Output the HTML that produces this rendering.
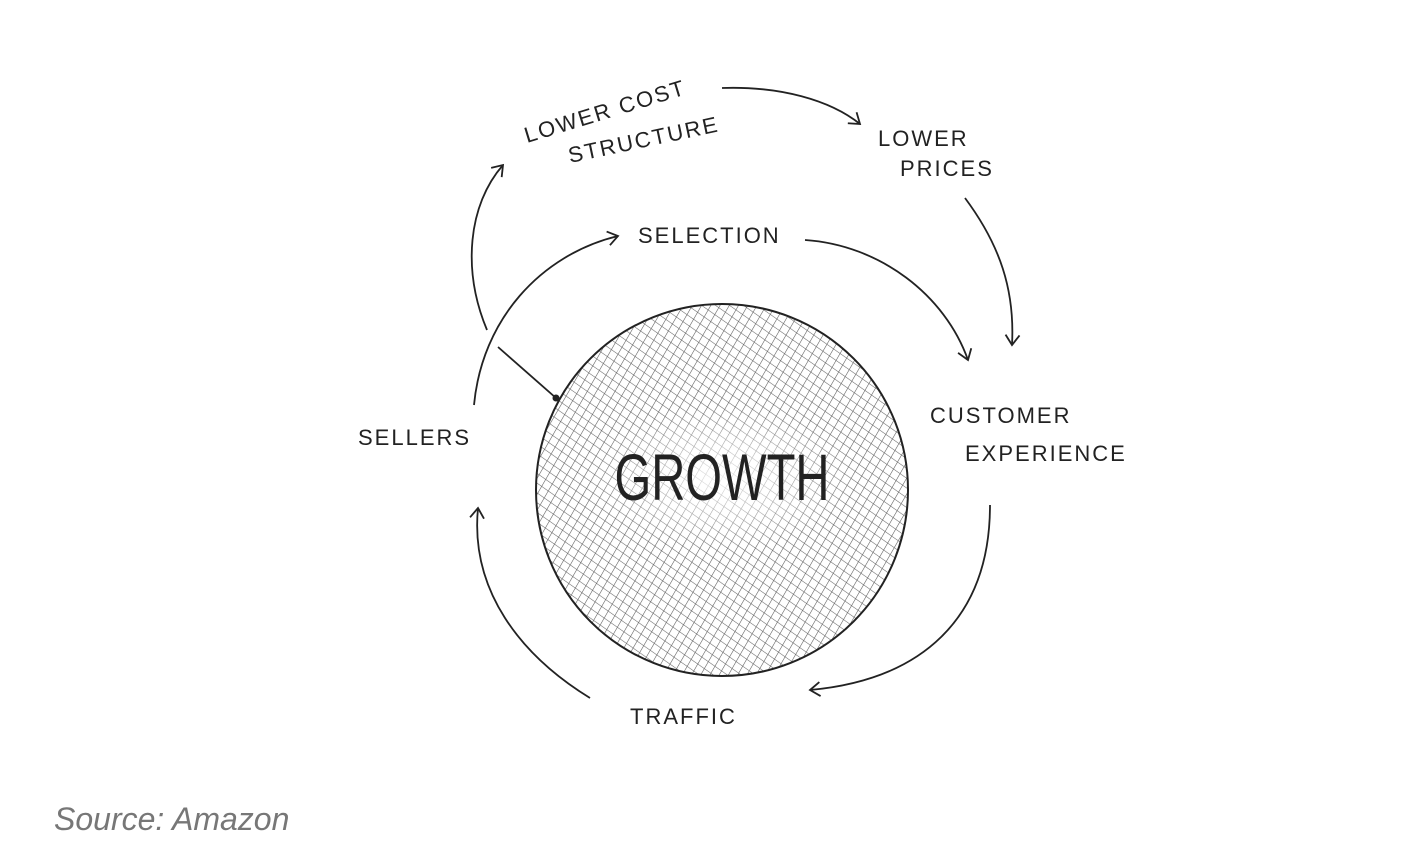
<!DOCTYPE html>
<html><head><meta charset="utf-8"><style>
html,body{margin:0;padding:0;background:#fff;}
body{width:1406px;height:859px;overflow:hidden;position:relative;}
svg{position:absolute;left:0;top:0;}
</style></head><body>
<svg width="1406" height="859" viewBox="0 0 1406 859" xmlns="http://www.w3.org/2000/svg">
<defs>
<pattern id="h1" width="8" height="8" patternUnits="userSpaceOnUse" patternTransform="rotate(30)">
<line x1="0" y1="0" x2="0" y2="8" stroke="#555" stroke-width="1.1"/>
</pattern>
<pattern id="h2" width="8" height="8" patternUnits="userSpaceOnUse" patternTransform="rotate(-55)">
<line x1="0" y1="0" x2="0" y2="8" stroke="#666" stroke-width="1.1"/>
</pattern>
<radialGradient id="rg" cx="0.5" cy="0.5" r="0.5">
<stop offset="0" stop-color="#fff" stop-opacity="0.85"/>
<stop offset="0.55" stop-color="#fff" stop-opacity="0.4"/>
<stop offset="1" stop-color="#fff" stop-opacity="0"/>
</radialGradient>
<marker id="a" markerWidth="16" markerHeight="16" refX="12" refY="8" orient="auto" markerUnits="userSpaceOnUse">
<path d="M2,1 L12,8 L2,15" fill="none" stroke="#222" stroke-width="1.8"/>
</marker>
</defs>
<circle cx="722" cy="490" r="186" fill="#fff"/>
<circle cx="722" cy="490" r="186" fill="url(#h1)"/>
<circle cx="722" cy="490" r="186" fill="url(#h2)"/>
<ellipse cx="722" cy="478" rx="135" ry="72" fill="url(#rg)"/>
<circle cx="722" cy="490" r="186" fill="none" stroke="#222" stroke-width="2"/>
<text x="722" y="500" text-anchor="middle" font-family="Liberation Sans, sans-serif" font-size="66" fill="#222" textLength="215" lengthAdjust="spacingAndGlyphs">GROWTH</text>
<g fill="none" stroke="#222" stroke-width="1.8">
<path d="M487,330 C462,270 468,205 503,165" marker-end="url(#a)"/>
<path d="M722,88 C780,86 830,100 860,124" marker-end="url(#a)"/>
<path d="M965,198 C1000,245 1015,290 1012,345" marker-end="url(#a)"/>
<path d="M805,240 C880,245 945,295 968,360" marker-end="url(#a)"/>
<path d="M474,405 C482,320 540,255 618,236" marker-end="url(#a)"/>
<path d="M498,347 L556,398"/>
<path d="M990,505 C990,620 920,680 810,690" marker-end="url(#a)"/>
<path d="M590,698 C520,655 470,590 478,508" marker-end="url(#a)"/>
</g>
<circle cx="556" cy="398" r="3.5" fill="#222"/>
<g font-family="Liberation Sans, sans-serif" fill="#222" font-size="22" letter-spacing="2">
<text transform="translate(527,143) rotate(-17)">LOWER COST</text>
<text transform="translate(570,163) rotate(-12)">STRUCTURE</text>
<text x="878" y="146">LOWER</text>
<text x="900" y="176">PRICES</text>
<text x="638" y="243">SELECTION</text>
<text x="358" y="445">SELLERS</text>
<text x="930" y="423">CUSTOMER</text>
<text x="965" y="461">EXPERIENCE</text>
<text x="630" y="724">TRAFFIC</text>
</g>
<text x="54" y="830" font-family="Liberation Sans, sans-serif" font-style="italic" font-size="32" fill="#777">Source: Amazon</text>
</svg>
</body></html>
